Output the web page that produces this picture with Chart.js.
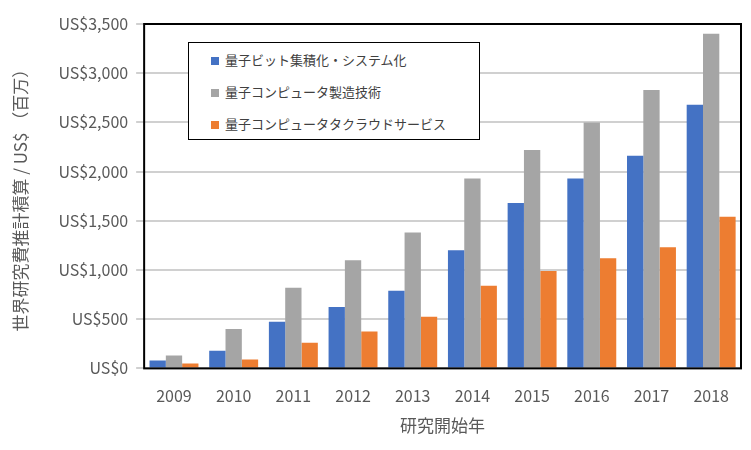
<!DOCTYPE html>
<html><head><meta charset="utf-8">
<script src="https://cdn.jsdelivr.net/npm/chart.js"></script>
<style>
body{margin:0;background:#fff;font-family:"Noto Sans CJK JP",sans-serif}
#w{position:relative;width:751px;height:450px}
#lg{position:absolute;left:188px;top:42px;width:292px;height:98px;border:1.5px solid #000;background:#fff;font-size:13px;color:#404040;box-sizing:border-box;padding:6px 0 0 22px}
#lg div{height:32px;line-height:22px}
#lg span{display:inline-block;width:8px;height:8px;margin-right:6px;vertical-align:middle}
</style></head><body>
<div id="w"><canvas id="c" width="751" height="450"></canvas>
<div id="lg"></div></div>
<script>
const years=["2009","2010","2011","2012","2013","2014","2015","2016","2017","2018"];
const seriesNames=["量子ビット集積化・システム化","量子コンピュータ製造技術","量子コンピュータタクラウドサービス"];
const qubit=[80,180,475,625,790,1200,1680,1930,2160,2680];
const manuf=[130,400,820,1100,1380,1930,2220,2500,2830,3400];
const cloud=[50,90,260,375,525,840,990,1120,1230,1540];
const colors=["#4472c4","#a5a5a5","#ed7d31"];
document.getElementById('lg').innerHTML=seriesNames.map((n,i)=>`<div><span style="background:${colors[i]}"></span>${n}</div>`).join('');
const frame={id:'frame',afterDraw(ch){const a=ch.chartArea,x=ch.ctx;x.save();x.strokeStyle='#000';x.lineWidth=2;x.strokeRect(a.left,a.top,a.right-a.left,a.bottom-a.top);x.restore();}};
new Chart(document.getElementById('c'),{type:'bar',
data:{labels:years,datasets:[qubit,manuf,cloud].map((d,i)=>({label:seriesNames[i],data:d,backgroundColor:colors[i],categoryPercentage:0.82,barPercentage:1}))},
options:{responsive:false,animation:false,layout:{padding:{top:24,right:10,left:8,bottom:14}},
plugins:{legend:{display:false},tooltip:{enabled:false}},
scales:{x:{grid:{display:false},border:{display:false},ticks:{color:'#595959',padding:10,font:{size:16,family:'Noto Sans CJK JP'}},title:{display:true,text:'研究開始年',color:'#595959',font:{size:17,family:'Noto Sans CJK JP'},padding:0}},
y:{min:0,max:3500,grid:{color:'#d0d0d0',lineWidth:2},border:{display:false},ticks:{stepSize:500,color:'#595959',padding:8,font:{size:16,family:'Noto Sans CJK JP'},callback:v=>'US$'+v.toLocaleString('en-US')},title:{display:true,text:'世界研究費推計積算 / US$ （百万）',color:'#595959',font:{size:17,family:'Noto Sans CJK JP'},padding:{top:2,bottom:20}}}}},
plugins:[frame]});
</script></body></html>
